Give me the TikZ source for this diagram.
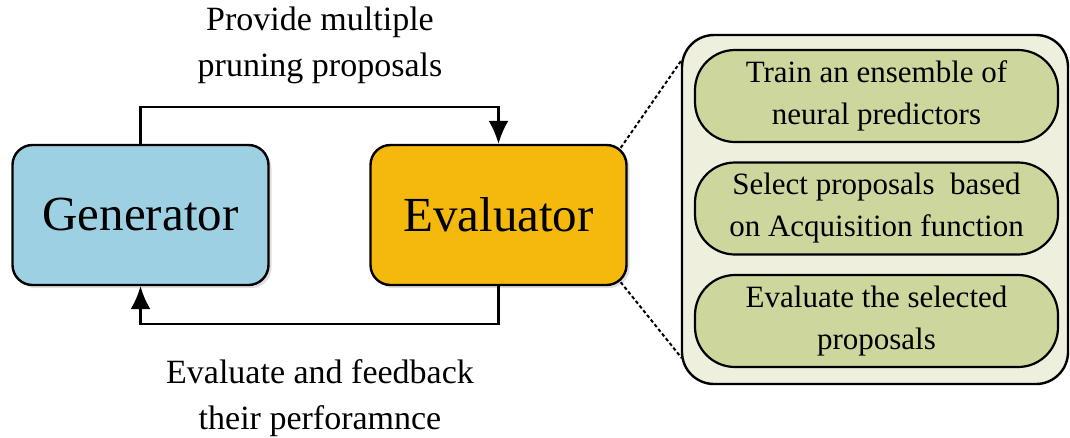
\documentclass[tikz,border=0pt]{standalone}
\usepackage{fontspec}
\setmainfont{Liberation Serif}
\usetikzlibrary{arrows.meta,shadows,calc}
\definecolor{genblue}{HTML}{9DD0E2}
\definecolor{evagold}{HTML}{F5B80C}
\definecolor{panelbg}{HTML}{EEF0DD}
\definecolor{stepgreen}{HTML}{CDD69C}
\tikzset{
  mainbox/.style={draw=black, line width=2.4pt, rounded corners=20pt,
    minimum width=256pt, minimum height=140pt, inner sep=0pt,
    font=\fontsize{49}{54}\selectfont,
    drop shadow={opacity=0.25, shadow xshift=3pt, shadow yshift=-3pt}},
  stepbox/.style={draw=black, line width=2.2pt, fill=stepgreen, rounded corners=40pt,
    minimum width=363pt, minimum height=92pt, inner sep=0pt, align=center,
    font=\fontsize{31}{42}\selectfont},
  caption/.style={align=center, font=\fontsize{34}{46}\selectfont},
  flow/.style={line width=2.2pt, -{Latex[length=23pt,width=20pt]}},
  zoomline/.style={line width=2pt, dash pattern=on 3.5pt off 2.5pt}
}
\begin{document}
\begin{tikzpicture}[x=1pt,y=-1pt]
  \useasboundingbox (0,0) rectangle (1070,437);

  % main blocks
  \node[mainbox, fill=genblue] (gen) at (140.5,215) {Generator};
  \node[mainbox, fill=evagold] (eva) at (498.5,215) {Evaluator};

  % detail panel of the evaluator
  \node[draw=black, line width=2.4pt, fill=panelbg, rounded corners=32pt,
        minimum width=386pt, minimum height=349pt] (panel) at (875,209.5) {};
  \node[stepbox] (s1) at (876.5,96) {Train an ensemble of\\neural predictors};
  \node[stepbox] (s2) at (876.5,208.5) {Select proposals\ \ based\\on Acquisition function};
  \node[stepbox] (s3) at (876.5,321) {Evaluate the selected\\proposals};

  % feedback loop
  \draw[flow] (gen.north) -- ++(0,-37) -| (eva.north);
  \draw[flow] (eva.south) -- ++(0,38) -| (gen.south);

  % labels of the loop
  \node[caption] (top) at (320,45) {Provide multiple\\pruning proposals};
  \node[caption] (bot) at (320,398) {Evaluate and feedback\\their perforamnce};

  % zoom lines from the evaluator to the panel
  \coordinate (eNE) at ($(eva.north east)+(-7,4)$);
  \coordinate (eSE) at ($(eva.south east)+(-7,-4)$);
  \coordinate (pNW) at ($(panel.north west)+(1,26)$);
  \coordinate (pSW) at ($(panel.south west)+(1,-27)$);
  \draw[zoomline] (eNE) -- (pNW);
  \draw[zoomline] (eSE) -- (pSW);
\end{tikzpicture}
\end{document}
